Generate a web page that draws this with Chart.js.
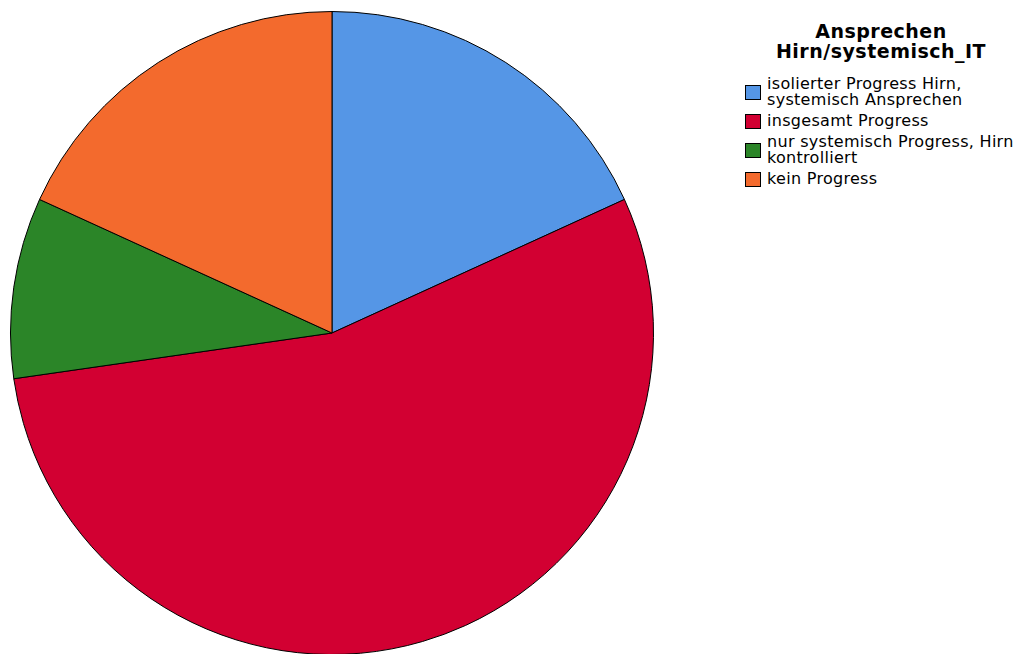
<!DOCTYPE html>
<html>
<head>
<meta charset="utf-8">
<script src="https://cdn.jsdelivr.net/npm/chart.js@4/dist/chart.umd.min.js"></script>
<style>
html,body{margin:0;padding:0;background:#fff;overflow:hidden;width:1018px;height:654px;}
#wrap{position:absolute;left:0;top:0;width:664px;height:666px;}
#legend{position:absolute;left:740px;top:21px;width:278px;font-family:"DejaVu Sans",sans-serif;color:#000;}
#legend .title{position:absolute;left:0;width:282px;font-weight:bold;font-size:19px;line-height:20px;letter-spacing:0.5px;text-align:center;}
#legend .items{position:absolute;top:55px;left:0;width:290px;}
#legend .item{display:flex;align-items:center;font-size:16px;line-height:16px;letter-spacing:0.3px;margin-bottom:5px;white-space:nowrap;}
#legend .box{width:14px;height:13px;border:1px solid #000;margin-left:5px;margin-right:6px;flex:none;}
</style>
</head>
<body>
<div id="wrap"><canvas id="c"></canvas></div>
<div id="legend"></div>
<script>
const legendTitle = ["Ansprechen", "Hirn/systemisch_IT"];
const categories = [
  ["isolierter Progress Hirn,", "systemisch Ansprechen"],
  ["insgesamt Progress"],
  ["nur systemisch Progress, Hirn", "kontrolliert"],
  ["kein Progress"]
];
const counts = [2, 6, 1, 2];
const colors = ["#5596e6", "#d20032", "#2b8528", "#f36a2d"];

const lg = document.getElementById('legend');
const t = document.createElement('div');
t.className = 'title';
t.innerHTML = legendTitle.join('<br>');
lg.appendChild(t);
const items = document.createElement('div');
items.className = 'items';
categories.forEach((lines, i) => {
  const it = document.createElement('div');
  it.className = 'item';
  const b = document.createElement('div');
  b.className = 'box';
  b.style.background = colors[i];
  const tx = document.createElement('div');
  tx.innerHTML = lines.join('<br>');
  it.appendChild(b);
  it.appendChild(tx);
  items.appendChild(it);
});
lg.appendChild(items);

new Chart(document.getElementById('c'), {
  type: 'pie',
  data: {
    labels: categories,
    datasets: [{
      data: counts,
      backgroundColor: colors,
      borderColor: '#000',
      borderWidth: 1
    }]
  },
  options: {
    responsive: true,
    maintainAspectRatio: false,
    animation: false,
    layout: {padding: 10},
    plugins: {legend: {display: false}, tooltip: {enabled: false}}
  }
});
</script>
</body>
</html>
